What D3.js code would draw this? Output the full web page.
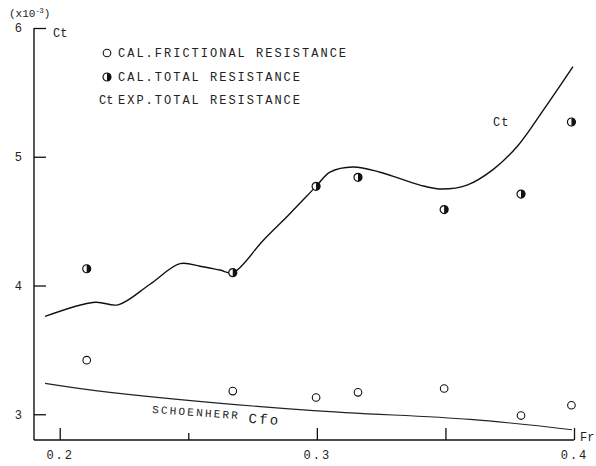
<!DOCTYPE html>
<html>
<head>
<meta charset="utf-8">
<script src="https://cdnjs.cloudflare.com/ajax/libs/d3/7.8.5/d3.min.js"></script>
<style>
  body { margin: 0; background: #fff; }
  text { font-family: "Liberation Mono", "DejaVu Sans Mono", monospace; fill: #222; }
</style>
</head>
<body>
<script>
// Froude number of each calculated point
const froude = [0.2105, 0.2673, 0.2997, 0.3160, 0.3495, 0.3794, 0.3990]
// calculated total resistance (half filled marks)
const calTotal = [4.13, 4.10, 4.77, 4.84, 4.59, 4.71, 5.27]
// calculated frictional resistance (open marks)
const calFriction = [3.42, 3.18, 3.13, 3.17, 3.20, 2.99, 3.07]

// experimental total resistance curve Ct
const expFr = [0.1943, 0.2137, 0.2227, 0.2351, 0.2468, 0.2546, 0.2623, 0.2674, 0.2791, 0.2896, 0.2997, 0.3051, 0.3141, 0.3246, 0.3401, 0.3479, 0.3584, 0.3685, 0.3779, 0.3880, 0.3996]
const expCt = [3.76, 3.87, 3.85, 4.01, 4.17, 4.15, 4.12, 4.10, 4.35, 4.56, 4.77, 4.88, 4.92, 4.88, 4.78, 4.75, 4.78, 4.90, 5.08, 5.36, 5.70]

// Schoenherr Cfo line
const cfoFr = [0.1943, 0.2195, 0.2974, 0.3596, 0.3992]
const cfo = [3.24, 3.17, 3.03, 2.96, 2.88]

const xTicks = [0.2, 0.25, 0.3, 0.35, 0.4]
const xLabels = ['0.2', '', '0.3', '', '0.4']
const yTicks = [3, 4, 5, 6]

const legendItems = ['CAL.FRICTIONAL RESISTANCE', 'CAL.TOTAL RESISTANCE', 'EXP.TOTAL RESISTANCE']

const width = 596
const height = 466

const xScale = d3.scaleLinear().domain([0.19, 0.4]).range([34, 574])
const yScale = d3.scaleLinear().domain([2.8, 6]).range([440, 28])

const svg = d3.select("body")
    .append("svg")
    .attr("width", width)
    .attr("height", height)

// y axis, ticks pointing inward
const yAxis = d3.axisLeft(yScale)
    .tickValues(yTicks)
    .tickSize(-12)
    .tickPadding(12)
    .tickFormat(d3.format('d'))

const gy = svg.append("g")
    .attr("transform", "translate(" + xScale(0.19) + ",0)")
    .call(yAxis)
gy.select(".domain").attr("d", "M0," + yScale(6) + "V" + yScale(2.8))
gy.selectAll(".tick text").style("font-size", "12px")
gy.selectAll(".tick line").attr("stroke", "#111").attr("stroke-width", 1.3)
gy.select(".domain").attr("stroke", "#111").attr("stroke-width", 1.4)

// x axis, ticks pointing up
const xAxis = d3.axisBottom(xScale)
    .tickValues(xTicks)
    .tickSize(0)
    .tickPadding(10)
    .tickFormat((d, i) => xLabels[i])

const gx = svg.append("g")
    .attr("transform", "translate(0," + yScale(2.8) + ")")
    .call(xAxis)
gx.select(".domain").attr("d", "M" + xScale(0.19) + ",0H" + xScale(0.4)).attr("stroke", "#111").attr("stroke-width", 1.4)
gx.selectAll(".tick line")
    .attr("y2", (d, i) => i === 1 ? -7 : -12)
    .attr("stroke", "#111")
    .attr("stroke-width", 1.3)
gx.selectAll(".tick text").style("font-size", "12px").style("letter-spacing", "2px")

svg.append("text")
    .attr("x", 580)
    .attr("y", 441)
    .style("font-size", "12px")
    .text("Fr")

svg.append("text")
    .attr("x", 9)
    .attr("y", 17)
    .style("font-size", "11px")
    .html("(x10<tspan dy='-4' font-size='7'>-3</tspan><tspan dy='4'>)</tspan>")

svg.append("text")
    .attr("x", 53)
    .attr("y", 37)
    .style("font-size", "12px")
    .text("Ct")

// lines
const line = d3.line()
    .curve(d3.curveCatmullRom)
    .x(d => xScale(d[0]))
    .y(d => yScale(d[1]))

svg.append("path")
    .datum(expFr.map((f, i) => [f, expCt[i]]))
    .attr("d", line)
    .attr("fill", "none")
    .attr("stroke", "#111")
    .attr("stroke-width", 1.4)

svg.append("path")
    .datum(cfoFr.map((f, i) => [f, cfo[i]]))
    .attr("d", line)
    .attr("fill", "none")
    .attr("stroke", "#222")
    .attr("stroke-width", 1.1)

svg.append("text")
    .attr("x", 493)
    .attr("y", 126)
    .style("font-size", "12px")
    .style("letter-spacing", "1px")
    .text("Ct")

svg.append("text")
    .attr("transform", "translate(152,413) rotate(4)")
    .style("font-size", "11px")
    .style("letter-spacing", "2.2px")
    .html("SCHOENHERR <tspan font-size='14' dy='3'>Cfo</tspan>")

// markers
const halfArc = d3.arc().innerRadius(0).outerRadius(4).startAngle(0).endAngle(Math.PI)

function openMark(g) {
    g.append("circle").attr("r", 3.8).attr("fill", "#fff").attr("stroke", "#111").attr("stroke-width", 1.1)
}
function halfMark(g) {
    g.append("circle").attr("r", 4).attr("fill", "#fff").attr("stroke", "#111").attr("stroke-width", 1.2)
    g.append("path").attr("d", halfArc()).attr("fill", "#111")
}

svg.selectAll(".fric")
    .data(froude)
    .enter()
    .append("g")
    .attr("class", "fric")
    .attr("transform", (d, i) => "translate(" + xScale(d) + "," + yScale(calFriction[i]) + ")")
    .call(openMark)

svg.selectAll(".tot")
    .data(froude)
    .enter()
    .append("g")
    .attr("class", "tot")
    .attr("transform", (d, i) => "translate(" + xScale(d) + "," + yScale(calTotal[i]) + ")")
    .call(halfMark)

// legend
const legend = svg.selectAll(".legend")
    .data(legendItems)
    .enter()
    .append("g")
    .attr("class", "legend")
    .attr("transform", (d, i) => "translate(107," + [53, 77, 100][i] + ")")

legend.append("text")
    .attr("x", 11)
    .attr("dy", "0.35em")
    .style("font-size", "12px")
    .style("letter-spacing", "2px")
    .text(d => d)

legend.filter((d, i) => i === 0).call(openMark)
legend.filter((d, i) => i === 1).call(halfMark)
legend.filter((d, i) => i === 2).append("text")
    .attr("x", -8)
    .attr("dy", "0.35em")
    .style("font-size", "12px")
    .text("Ct")
</script>
</body>
</html>
